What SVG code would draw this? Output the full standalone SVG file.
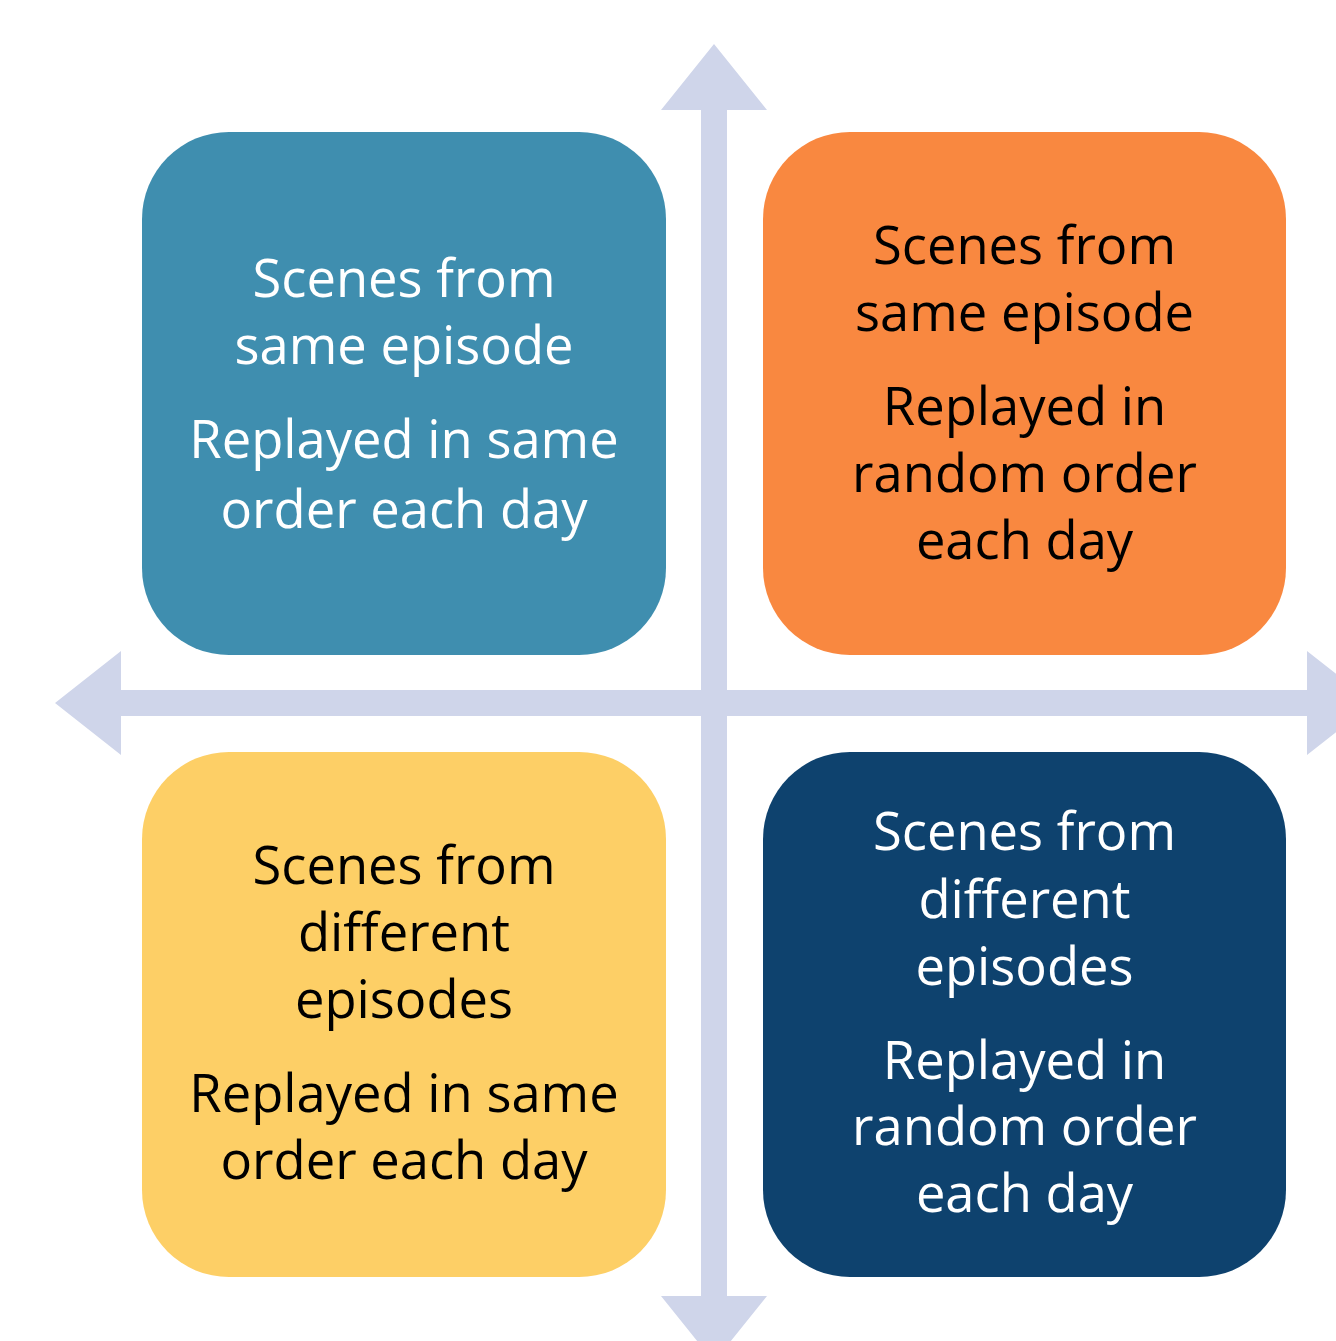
<svg xmlns="http://www.w3.org/2000/svg" width="1336" height="1341" viewBox="0 0 1336 1341">
<style>
.axis{fill:#CFD5EA}
.lbl{font-family:"Open Sans","Liberation Sans",sans-serif;font-size:52.5px;text-anchor:middle}
.w{fill:#FFFFFF}
.k{fill:#000000}
</style>
<rect width="1336" height="1341" fill="#FFFFFF"/>
<g id="connectors">
<polygon class="axis" points="714,44 767,110 727,110 727,690 1307,690 1307,651 1373,703 1307,755 1307,716 727,716 727,1296 767,1296 714,1362 661,1296 701,1296 701,716 121,716 121,755 55,703 121,651 121,690 701,690 701,110 661,110"/>
</g>
<g id="q-top-left">
<rect x="142" y="132" width="524" height="523" rx="87" ry="87" fill="#3F8EAF"/>
<text class="lbl w" x="404" y="297">Scenes from</text>
<text class="lbl w" x="404" y="364">same episode</text>
<text class="lbl w" x="404" y="458">Replayed in same</text>
<text class="lbl w" x="404" y="528">order each day</text>
</g>
<g id="q-top-right">
<rect x="763" y="132" width="523" height="523" rx="87" ry="87" fill="#F98840"/>
<text class="lbl k" x="1024.5" y="264">Scenes from</text>
<text class="lbl k" x="1024.5" y="331">same episode</text>
<text class="lbl k" x="1024.5" y="425">Replayed in</text>
<text class="lbl k" x="1024.5" y="492">random order</text>
<text class="lbl k" x="1024.5" y="559">each day</text>
</g>
<g id="q-bottom-left">
<rect x="142" y="752" width="524" height="525" rx="87" ry="87" fill="#FDCF66"/>
<text class="lbl k" x="404" y="884">Scenes from</text>
<text class="lbl k" x="404" y="951">different</text>
<text class="lbl k" x="404" y="1018">episodes</text>
<text class="lbl k" x="404" y="1112">Replayed in same</text>
<text class="lbl k" x="404" y="1179">order each day</text>
</g>
<g id="q-bottom-right">
<rect x="763" y="752" width="523" height="525" rx="87" ry="87" fill="#0E426E"/>
<text class="lbl w" x="1024.5" y="850">Scenes from</text>
<text class="lbl w" x="1024.5" y="918">different</text>
<text class="lbl w" x="1024.5" y="985">episodes</text>
<text class="lbl w" x="1024.5" y="1079">Replayed in</text>
<text class="lbl w" x="1024.5" y="1145">random order</text>
<text class="lbl w" x="1024.5" y="1212">each day</text>
</g>
</svg>
